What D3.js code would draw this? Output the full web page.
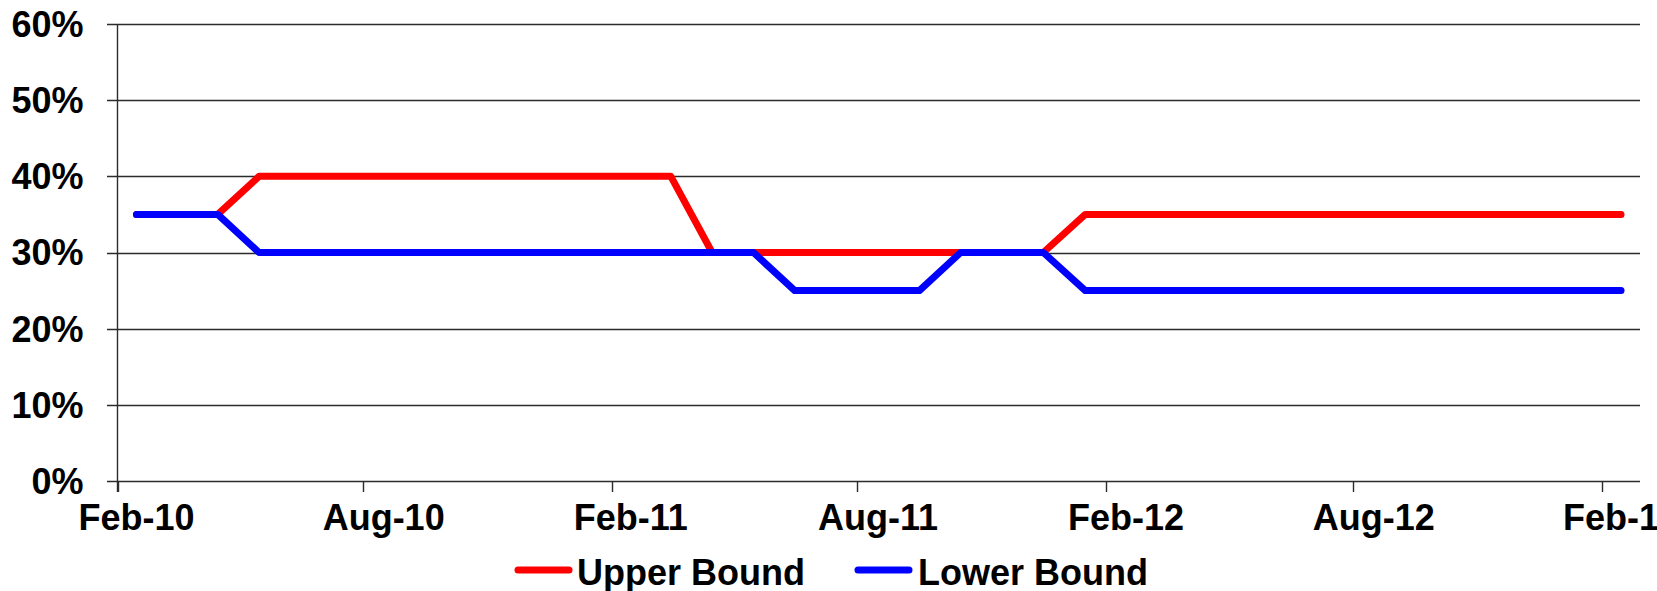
<!DOCTYPE html>
<html>
<head>
<meta charset="utf-8">
<script src="https://cdn.jsdelivr.net/npm/d3@7"></script>
<style>
    html, body { margin: 0; padding: 0; background: #fff; overflow: hidden; }
    svg { display: block; }
</style>
</head>
<body>
<div id="chart"></div>
<script>
// ==========================================
// DONNEES
// ==========================================
const months = [
    "2010-02", "2010-03", "2010-04", "2010-05", "2010-06", "2010-07", "2010-08",
    "2010-09", "2010-10", "2010-11", "2010-12", "2011-01", "2011-02", "2011-03",
    "2011-04", "2011-05", "2011-06", "2011-07", "2011-08", "2011-09", "2011-10",
    "2011-11", "2011-12", "2012-01", "2012-02", "2012-03", "2012-04", "2012-05",
    "2012-06", "2012-07", "2012-08", "2012-09", "2012-10", "2012-11", "2012-12",
    "2013-01", "2013-02"
];

const upperBound = [
    0.35, 0.35, 0.35, 0.40, 0.40, 0.40, 0.40, 0.40, 0.40, 0.40, 0.40, 0.40, 0.40, 0.40,
    0.30, 0.30, 0.30, 0.30, 0.30, 0.30, 0.30, 0.30, 0.30,
    0.35, 0.35, 0.35, 0.35, 0.35, 0.35, 0.35, 0.35, 0.35, 0.35, 0.35, 0.35, 0.35, 0.35
];

const lowerBound = [
    0.35, 0.35, 0.35, 0.30, 0.30, 0.30, 0.30, 0.30, 0.30, 0.30, 0.30, 0.30, 0.30, 0.30,
    0.30, 0.30, 0.25, 0.25, 0.25, 0.25, 0.30, 0.30, 0.30,
    0.25, 0.25, 0.25, 0.25, 0.25, 0.25, 0.25, 0.25, 0.25, 0.25, 0.25, 0.25, 0.25, 0.25
];

const yTicks = [0, 0.1, 0.2, 0.3, 0.4, 0.5, 0.6];
const xTickMonths = ["2010-02", "2010-08", "2011-02", "2011-08", "2012-02", "2012-08", "2013-02"];

const seriesList = [
    { name: "Upper Bound", values: upperBound, color: "#ff0000" },
    { name: "Lower Bound", values: lowerBound, color: "#0000ff" }
];

// ==========================================
// RENDU
// ==========================================
const width = 1657;
const height = 591;
const font = "'Liberation Sans', Arial, sans-serif";

const parseMonth = d3.timeParse("%Y-%m");
const fmtMonth = d3.timeFormat("%b-%y");

const svg = d3.select("#chart").append("svg")
    .attr("width", width)
    .attr("height", height)
    .attr("font-family", font)
    .attr("font-weight", "bold");

// Axe date : une case par mois, points au milieu de la case (comme Excel)
const x = d3.scaleTime()
    .domain([parseMonth("2010-02"), parseMonth("2013-03")])
    .range([117.5, 1640]);

const y = d3.scaleLinear()
    .domain([0, 0.6])
    .range([481, 24]);

const midMonth = m => {
    const d = parseMonth(m);
    return (x(d) + x(d3.timeMonth.offset(d, 1))) / 2;
};

// --- Grille horizontale (avec petit tick à gauche) ---
svg.append("g")
    .selectAll("line")
    .data(yTicks)
    .join("line")
    .attr("x1", 107)
    .attr("x2", 1640)
    .attr("y1", d => Math.round(y(d)) + 0.5)
    .attr("y2", d => Math.round(y(d)) + 0.5)
    .attr("stroke", "#2b2b2b")
    .attr("stroke-width", 1.4);

// --- Axe vertical ---
svg.append("line")
    .attr("x1", 117.5).attr("x2", 117.5)
    .attr("y1", y(0.6)).attr("y2", y(0) + 11)
    .attr("stroke", "#2b2b2b")
    .attr("stroke-width", 1.4);

// --- Labels Y ---
svg.append("g")
    .attr("font-size", 36)
    .attr("text-anchor", "end")
    .selectAll("text")
    .data(yTicks)
    .join("text")
    .attr("x", 83.5)
    .attr("y", d => y(d))
    .attr("dy", "0.36em")
    .text(d3.format(".0%"));

// --- Ticks X ---
svg.append("g")
    .selectAll("line")
    .data(xTickMonths)
    .join("line")
    .attr("x1", d => Math.round(x(parseMonth(d))) + 0.5)
    .attr("x2", d => Math.round(x(parseMonth(d))) + 0.5)
    .attr("y1", y(0))
    .attr("y2", y(0) + 11)
    .attr("stroke", "#2b2b2b")
    .attr("stroke-width", 1.4);

// --- Labels X (centrés sur le mois) ---
svg.append("g")
    .attr("font-size", 36)
    .attr("text-anchor", "middle")
    .selectAll("text")
    .data(xTickMonths)
    .join("text")
    .attr("x", d => midMonth(d))
    .attr("y", 530)
    .text(d => fmtMonth(parseMonth(d)));

// --- Courbes ---
const line = d3.line()
    .x((d, i) => midMonth(months[i]))
    .y(d => y(d));

svg.append("g")
    .attr("fill", "none")
    .attr("stroke-width", 7)
    .attr("stroke-linejoin", "round")
    .attr("stroke-linecap", "round")
    .selectAll("path")
    .data(seriesList)
    .join("path")
    .attr("stroke", d => d.color)
    .attr("d", d => line(d.values));

// --- Légende ---
const legendPos = [
    { x1: 518, x2: 569, tx: 577 },
    { x1: 858, x2: 909, tx: 918 }
];

const legend = svg.append("g")
    .selectAll("g")
    .data(seriesList)
    .join("g");

legend.append("line")
    .attr("x1", (d, i) => legendPos[i].x1)
    .attr("x2", (d, i) => legendPos[i].x2)
    .attr("y1", 570)
    .attr("y2", 570)
    .attr("stroke", d => d.color)
    .attr("stroke-width", 7)
    .attr("stroke-linecap", "round");

legend.append("text")
    .attr("x", (d, i) => legendPos[i].tx)
    .attr("y", 585)
    .attr("font-size", 36)
    .text(d => d.name);
</script>
</body>
</html>
